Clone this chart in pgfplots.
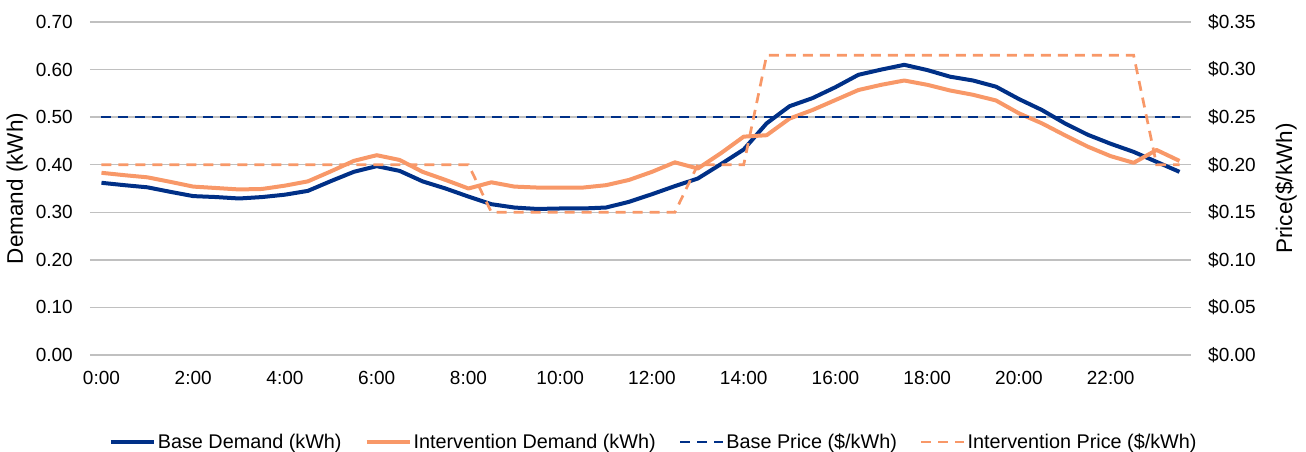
\documentclass[border=0pt]{standalone}
\usepackage{fontspec}
\setmainfont{Liberation Sans}
\usepackage{pgfplots}
\pgfplotsset{compat=1.18}
\usepackage{pgfplotstable}

\definecolor{navy}{RGB}{0,48,135}
\definecolor{salmon}{RGB}{248,152,104}
\definecolor{gridgray}{RGB}{192,192,192}

\pgfplotstableread{
i base inter
0 0.362 0.383
1 0.357 0.378
2 0.3525 0.3735
3 0.343 0.364
4 0.334 0.354
5 0.332 0.351
6 0.329 0.348
7 0.332 0.349
8 0.337 0.356
9 0.345 0.365
10 0.3655 0.386
11 0.385 0.408
12 0.397 0.420
13 0.387 0.410
14 0.365 0.385
15 0.350 0.368
16 0.333 0.350
17 0.317 0.363
18 0.310 0.354
19 0.307 0.352
20 0.308 0.352
21 0.308 0.352
22 0.310 0.357
23 0.322 0.368
24 0.338 0.385
25 0.355 0.405
26 0.371 0.392
27 0.401 0.424
28 0.432 0.459
29 0.487 0.462
30 0.523 0.497
31 0.540 0.515
32 0.563 0.536
33 0.589 0.557
34 0.600 0.568
35 0.610 0.577
36 0.599 0.568
37 0.585 0.556
38 0.577 0.547
39 0.564 0.535
40 0.538 0.508
41 0.515 0.487
42 0.487 0.462
43 0.463 0.438
44 0.444 0.418
45 0.427 0.404
46 0.406 0.431
47 0.385 0.408
}\demand

\pgfplotstableread{
i base inter
0 0.25 0.20
1 0.25 0.20
2 0.25 0.20
3 0.25 0.20
4 0.25 0.20
5 0.25 0.20
6 0.25 0.20
7 0.25 0.20
8 0.25 0.20
9 0.25 0.20
10 0.25 0.20
11 0.25 0.20
12 0.25 0.20
13 0.25 0.20
14 0.25 0.20
15 0.25 0.20
16 0.25 0.20
17 0.25 0.15
18 0.25 0.15
19 0.25 0.15
20 0.25 0.15
21 0.25 0.15
22 0.25 0.15
23 0.25 0.15
24 0.25 0.15
25 0.25 0.15
26 0.25 0.20
27 0.25 0.20
28 0.25 0.20
29 0.25 0.315
30 0.25 0.315
31 0.25 0.315
32 0.25 0.315
33 0.25 0.315
34 0.25 0.315
35 0.25 0.315
36 0.25 0.315
37 0.25 0.315
38 0.25 0.315
39 0.25 0.315
40 0.25 0.315
41 0.25 0.315
42 0.25 0.315
43 0.25 0.315
44 0.25 0.315
45 0.25 0.315
46 0.25 0.20
47 0.25 0.20
}\price

\pgfplotsset{common/.style={
  width=1101pt, height=333pt, scale only axis,
  xmin=-0.5, xmax=47.5, ymin=0,
  major tick length=0pt,
  axis line style={draw=none},
  tick label style={font=\fontsize{19}{22}\selectfont},
  ylabel style={font=\fontsize{22.5}{26}\selectfont},
}}

\begin{document}
\begin{tikzpicture}
\useasboundingbox (-90pt,-97pt) rectangle (1216pt,355pt);
\begin{axis}[common,
  ymax=0.70,
  ytick={0,0.1,0.2,0.3,0.4,0.5,0.6,0.7},
  yticklabels={0.00,0.10,0.20,0.30,0.40,0.50,0.60,0.70},
  xtick={0,4,8,12,16,20,24,28,32,36,40,44},
  xticklabels={0:00,2:00,4:00,6:00,8:00,10:00,12:00,14:00,16:00,18:00,20:00,22:00},
  yticklabel style={anchor=east, inner sep=0pt, xshift=-17pt},
  xticklabel style={anchor=north, inner sep=0pt, yshift=-16pt},
  ymajorgrids, grid style={gridgray, line width=1.5pt},
  ylabel={Demand (kWh)},
  ylabel style={at={(axis description cs:-0.0663,0.5)}, anchor=center},
  legend columns=4,
  legend cell align=left,
  legend style={at={(axis description cs:0.512,-0.261)}, anchor=center, draw=none, fill=none,
    font=\fontsize{19.8}{23}\selectfont, inner sep=0pt,
    nodes={inner sep=2pt},
    /tikz/every even column/.append style={column sep=21pt}},
  legend image code/.code={\draw[#1] (0pt,0pt) -- (43pt,0pt);},
]
\addplot[navy, line width=4pt, line join=round] table[x=i,y=base]{\demand};
\addlegendentry{Base Demand (kWh)}
\addplot[salmon, line width=4pt, line join=round] table[x=i,y=inter]{\demand};
\addlegendentry{Intervention Demand (kWh)}
\addlegendimage{navy, line width=2.7pt, dash pattern=on 10pt off 7pt}
\addlegendentry{Base Price (\$/kWh)}
\addlegendimage{salmon, line width=2.7pt, dash pattern=on 10pt off 7pt}
\addlegendentry{Intervention Price (\$/kWh)}
\end{axis}
\begin{axis}[common,
  ymax=0.35,
  axis y line*=right, axis x line=none,
  ytick={0,0.05,0.1,0.15,0.2,0.25,0.3,0.35},
  yticklabels={\$0.00,\$0.05,\$0.10,\$0.15,\$0.20,\$0.25,\$0.30,\$0.35},
  yticklabel style={anchor=west, inner sep=0pt, xshift=17pt},
  ylabel={Price(\$/kWh)},
  ylabel style={at={(axis description cs:1.0863,0.5)}, anchor=center},
]
\addplot[navy, line width=2.7pt, dash pattern=on 10pt off 7pt] table[x=i,y=base]{\price};
\addplot[salmon, line width=2.7pt, dash pattern=on 10pt off 7pt] table[x=i,y=inter]{\price};
\end{axis}
\end{tikzpicture}
\end{document}
